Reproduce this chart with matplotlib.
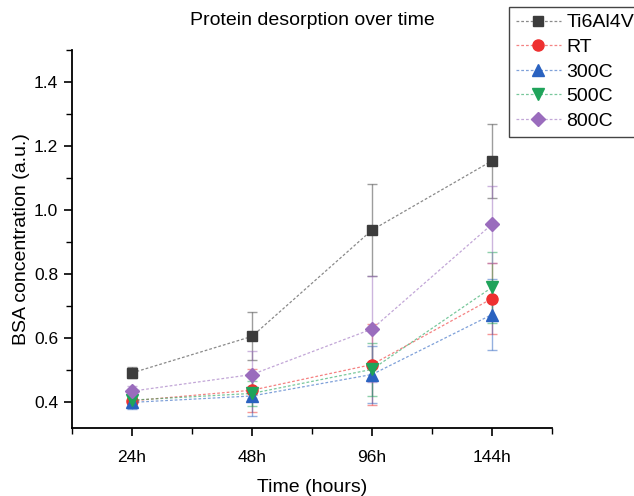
import matplotlib
matplotlib.use("Agg")
import matplotlib.pyplot as plt
from matplotlib.colors import to_rgba
from matplotlib.ticker import FixedLocator, FormatStrFormatter

plt.rcParams["font.family"] = ["Liberation Sans", "DejaVu Sans"]

time_labels = ["24h", "48h", "96h", "144h"]
series_names = ["Ti6Al4V", "RT", "300C", "500C", "800C"]

ti_mean = [0.492, 0.606, 0.938, 1.154]
ti_err = [0.017, 0.075, 0.144, 0.115]
rt_mean = [0.405, 0.438, 0.518, 0.724]
rt_err = [0.020, 0.067, 0.127, 0.110]
c300_mean = [0.400, 0.420, 0.487, 0.674]
c300_err = [0.020, 0.063, 0.090, 0.112]
c500_mean = [0.407, 0.428, 0.503, 0.759]
c500_err = [0.020, 0.040, 0.083, 0.110]
c800_mean = [0.435, 0.487, 0.629, 0.956]
c800_err = [0.015, 0.073, 0.165, 0.120]

means = [ti_mean, rt_mean, c300_mean, c500_mean, c800_mean]
errors = [ti_err, rt_err, c300_err, c500_err, c800_err]

colors = ["#3c3c3c", "#ee3030", "#2a62c0", "#1fa35a", "#9a6cbd"]
markers = ["s", "o", "^", "v", "D"]
sizes = [7.5, 8, 8.5, 8.5, 7]
dash = (0, (2.2, 1.6))

fig = plt.figure(figsize=(6.34, 4.96), dpi=100)
ax = fig.add_axes([72 / 634, 1 - 428 / 496, 480 / 634, 378 / 496])

x = list(range(1, len(time_labels) + 1))
handles = []
for name, m, e, c, mk, ms in zip(series_names, means, errors, colors, markers, sizes):
    ax.errorbar(x, m, yerr=e, color=c, ecolor=c, elinewidth=1.0, capsize=3.5,
                capthick=1.0, fmt="none", alpha=0.5, zorder=2)
    h, = ax.plot(x, m, linestyle=dash, linewidth=0.9, color=to_rgba(c, 0.6),
                 marker=mk, markersize=ms, markerfacecolor=c,
                 markeredgecolor=c, zorder=3, label=name)
    handles.append(h)

ax.set_xlim(0.5, 4.5)
ax.set_ylim(0.32, 1.5)
ax.set_xticks(x)
ax.set_xticklabels(time_labels)
ax.xaxis.set_minor_locator(FixedLocator([0.5, 1.5, 2.5, 3.5, 4.5]))
ax.yaxis.set_major_locator(FixedLocator([0.4, 0.6, 0.8, 1.0, 1.2, 1.4]))
ax.yaxis.set_minor_locator(FixedLocator([0.5, 0.7, 0.9, 1.1, 1.3, 1.5]))
ax.yaxis.set_major_formatter(FormatStrFormatter("%.1f"))

ax.spines["top"].set_visible(False)
ax.spines["right"].set_visible(False)
for s in ["left", "bottom"]:
    ax.spines[s].set_linewidth(1.3)
ax.tick_params(which="major", direction="out", length=6, width=1.2,
               labelsize=12.5, pad=4)
ax.tick_params(axis="x", which="major", pad=10)
ax.tick_params(which="minor", direction="out", length=4, width=1.0)

ax.set_xlabel("Time (hours)", fontsize=14, labelpad=10)
ax.set_ylabel("BSA concentration (a.u.)", fontsize=14, labelpad=3)
ax.set_title("Protein desorption over time", fontsize=14, pad=18)

leg = fig.legend(handles=handles, loc="upper left",
                 bbox_to_anchor=(509 / 634, 1 - 7 / 496), fontsize=14,
                 frameon=True, fancybox=False, edgecolor="#444444",
                 framealpha=1, labelspacing=0.36, handlelength=2.3,
                 handletextpad=0.3, borderpad=0.35, borderaxespad=0)
leg.get_frame().set_linewidth(1.0)

fig.savefig("out.png", dpi=100)
